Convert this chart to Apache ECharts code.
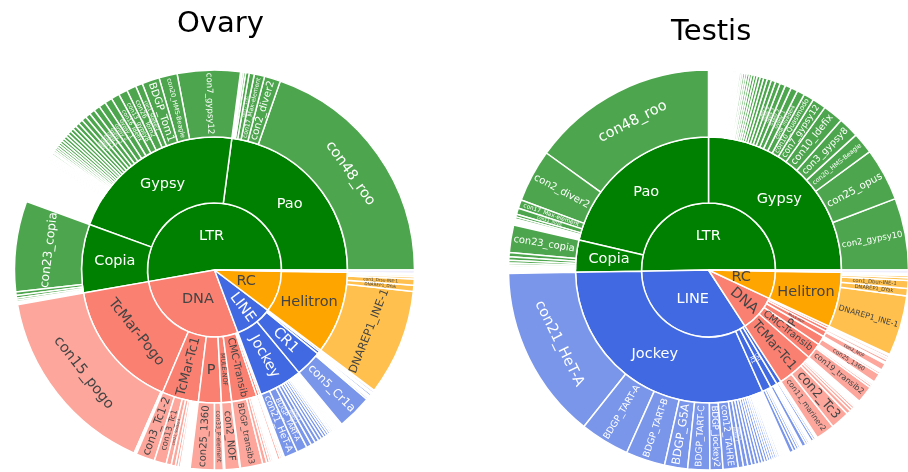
<!DOCTYPE html>
<html>
<head>
<meta charset="utf-8">
<title>Ovary / Testis</title>
<script src="https://cdn.jsdelivr.net/npm/echarts@6/dist/echarts.min.js"></script>
<style>
  html, body { margin: 0; padding: 0; background: #fff; }
  #chart { width: 908px; height: 472px; }
</style>
</head>
<body>
<div id="chart"></div>
<script>
// class colours (leaves get the same colour at 70% opacity on white)
const classColors = { LTR: '#008000', DNA: '#fa8072', LINE: '#4169e1', RC: '#ffa500', Unk: '#e6e6fa' };

// ---------- Ovary ---------- (values read as degrees of arc)
// [class, family, family total]
const ovaryFamilies = [
    ['LTR', 'Pao', 82.5],
    ['LTR', 'Gypsy', 77.5],
    ['LTR', 'Copia', 30],
    ['DNA', 'TcMar-Pogo', 57],
    ['DNA', 'TcMar-Tc1', 16],
    ['DNA', 'P', 10],
    ['DNA', 'MULE-NOF', 4.5],
    ['DNA', 'CMC-Transib', 11],
    ['DNA', 'DNA-other1', 1.2],
    ['DNA', 'DNA-other2', 0.8],
    ['LINE', 'Jockey', 19],
    ['LINE', 'CR1', 11.5],
    ['LINE', 'LINE-other1', 1.2],
    ['LINE', 'LINE-other2', 0.8],
    ['RC', 'Helitron', 36],
    ['Unk', 'Unk', 1],
];
// [family, element, value]
const ovaryLTR = [
    ['Pao', 'con48_roo', 70.8],
    ['Pao', 'con2_diver2', 4.7],
    ['Pao', 'con17_Max-element', 3.0],
    ['Pao', 'con17_1731', 1.5],
    ['Gypsy', 'con7_gypsy12', 18.3],
    ['Gypsy', 'con20_HMS-Beagle', 5.3],
    ['Gypsy', 'BDGP_Tom1', 5.1],
    ['Gypsy', 'con1_Stalker2', 2.0],
    ['Gypsy', 'con26_Tom2', 2.8],
    ['Gypsy', 'con13_gypsy8', 2.6],
    ['Gypsy', 'con16_Idefix', 2.4],
    ['Copia', 'con23_copia', 26.3],
];
const ovaryDNA = [
    ['TcMar-Pogo', 'con15_pogo', 56.3],
    ['TcMar-Tc1', 'con3_Tc1-2', 5.5],
    ['TcMar-Tc1', 'con13_Tc1', 3.5],
    ['TcMar-Tc1', 'con22_Stalker4', 1.5],
    ['TcMar-Tc1', 'con9_Tc1', 1.2],
    ['P', 'con25_1360', 7.0],
    ['P', 'con33_P-element', 2.6],
    ['MULE-NOF', 'con2_NOF', 4.3],
    ['CMC-Transib', 'BDGP_transib3', 6.5],
];
const ovaryLINE = [
    ['Jockey', 'con21_HeT-A', 4.0],
    ['Jockey', 'BDGP_TART-A', 3.0],
    ['CR1', 'con5_Cr1a', 10.2],
];
const ovaryRC = [
    ['Helitron', 'DNAREP1_INE-1', 30.8],
    ['Helitron', 'DNAREP1_DYak', 1.8],
    ['Helitron', 'con1_Drsu-INE-1', 1.8],
];
const ovaryUnk = [
    ['Unk', 'con7_Unk002_XXX4.ARB', 1],
];
// unlabelled thin slivers per family
const ovarySlivers = [
    ['Pao', [1.0, 0.6, 0.5, 0.4]],
    ['Gypsy', [2.2, 2.0, 1.8, 1.6, 1.5, 1.4, 1.3, 1.2, 1.1, 1.0, 1.0, 0.9, 0.9, 0.8, 0.8, 0.7, 0.7, 0.6, 0.6, 0.5, 0.5, 0.5, 0.4, 0.4, 0.4, 0.3, 0.3, 0.3, 0.3, 0.2, 0.2]],
    ['Copia', [1.0, 0.8, 0.6, 0.5, 0.4, 0.4]],
    ['TcMar-Pogo', [0.4, 0.3]],
    ['TcMar-Tc1', [0.8, 0.6]],
    ['P', [0.4]],
    ['MULE-NOF', [0.2]],
    ['CMC-Transib', [1.2, 0.8, 0.6, 0.5, 0.4]],
    ['DNA-other1', [0.7, 0.5]],
    ['DNA-other2', [0.5, 0.3]],
    ['Jockey', [1.5, 1.3, 1.1, 1.0, 0.9, 0.8, 0.7, 0.6, 0.5, 0.5, 0.4, 0.4, 0.3, 0.3]],
    ['CR1', [0.5, 0.4, 0.4]],
    ['LINE-other1', [0.6, 0.4]],
    ['LINE-other2', [0.5, 0.3]],
    ['Helitron', [0.7, 0.5, 0.4]],
];

// ---------- Testis ----------
const testisFamilies = [
    ['LTR', 'Gypsy', 90],
    ['LTR', 'Pao', 77],
    ['LTR', 'Copia', 14],
    ['LINE', 'Jockey', 113],
    ['LINE', 'R1', 4],
    ['LINE', 'CR1', 3],
    ['LINE', 'LINE-other1', 2],
    ['DNA', 'TcMar-Tc1', 16],
    ['DNA', 'CMC-Transib', 7],
    ['DNA', 'P', 4],
    ['DNA', 'MULE-NOF', 2.5],
    ['DNA', 'DNA-other1', 1.5],
    ['DNA', 'DNA-other2', 1.0],
    ['RC', 'Helitron', 24],
    ['Unk', 'Unk', 1],
];
const testisLTR = [
    ['Gypsy', 'con2_gypsy10', 20.9],
    ['Gypsy', 'con25_opus', 15.4],
    ['Gypsy', 'con20_HMS-Beagle', 6.2],
    ['Gypsy', 'con3_gypsy8', 6.0],
    ['Gypsy', 'con10_Idefix', 5.9],
    ['Gypsy', 'con7_gypsy12', 4.0],
    ['Gypsy', 'con10_Quasimodo', 3.0],
    ['Gypsy', 'con8_invader4', 2.2],
    ['Pao', 'con48_roo', 54.2],
    ['Pao', 'con2_diver2', 15.3],
    ['Pao', 'con17_Max-element', 2.5],
    ['Pao', 'con11_3018', 1.8],
    ['Copia', 'con23_copia', 8.0],
];
const testisLINE = [
    ['Jockey', 'con21_HeT-A', 50.5],
    ['Jockey', 'BDGP_TART-A', 14.4],
    ['Jockey', 'BDGP_TART-B', 11.4],
    ['Jockey', 'BDGP_G5A', 6.7],
    ['Jockey', 'BDGP_TART-C', 6.4],
    ['Jockey', 'BDGP_jockey2', 3.8],
    ['Jockey', 'con12_TAHRE', 4.4],
    ['CR1', 'con5_Cr1a', 1.2],
];
const testisDNA = [
    ['TcMar-Tc1', 'con11_mariner2', 5.5],
    ['TcMar-Tc1', 'con2_Tc3', 5.5],
    ['CMC-Transib', 'con19_transib2', 5.0],
    ['P', 'con25_1360', 2.6],
    ['MULE-NOF', 'con2_NOF', 2.0],
];
const testisRC = [
    ['Helitron', 'DNAREP1_INE-1', 17.5],
    ['Helitron', 'DNAREP1_DYak', 2.2],
    ['Helitron', 'con1_Dbur-INE-1', 2.3],
];
const testisUnk = [
    ['Unk', 'con7_Unk002_XXX4.ARB', 1],
];
const testisSlivers = [
    ['Gypsy', [2.0, 1.8, 1.6, 1.4, 1.3, 1.2, 1.1, 1.0, 0.9, 0.8, 0.8, 0.7, 0.7, 0.6, 0.6, 0.5, 0.5, 0.4, 0.4, 0.4, 0.3, 0.3, 0.3]],
    ['Pao', [0.8, 0.6, 0.5, 0.4]],
    ['Copia', [1.2, 1.0, 0.8, 0.6, 0.5, 0.4, 0.3]],
    ['Jockey', [1.5, 1.3, 1.2, 1.1, 1.0, 0.9, 0.9, 0.8, 0.7, 0.7, 0.6, 0.6, 0.5, 0.5, 0.4, 0.4, 0.3, 0.3]],
    ['R1', [1.2, 0.9, 0.7, 0.5]],
    ['CR1', [0.6, 0.5, 0.4]],
    ['LINE-other1', [0.8, 0.6, 0.4]],
    ['TcMar-Tc1', [1.2, 0.9, 0.7, 0.5, 0.4]],
    ['CMC-Transib', [0.7, 0.5, 0.4]],
    ['P', [0.6, 0.4]],
    ['MULE-NOF', [0.3]],
    ['DNA-other1', [0.8, 0.5]],
    ['DNA-other2', [0.6, 0.3]],
    ['Helitron', [0.8, 0.6, 0.4]],
];

// labels drawn horizontally (others pick radial / tangential to fit)
const ovaryFlat = ['LTR', 'DNA', 'RC', 'Pao', 'Gypsy', 'Copia', 'Helitron', 'P'];
const testisFlat = ['LTR', 'LINE', 'RC', 'Pao', 'Gypsy', 'Copia', 'Jockey', 'Helitron'];

const ringR = [0, 67, 133, 200];
const maxFont = 14.5;
const fontFamily = 'DejaVu Sans';

const measureCtx = document.createElement('canvas').getContext('2d');
measureCtx.font = `100px "${fontFamily}"`;
const textWidth = s => measureCtx.measureText(s).width / 100;

function tint(hex) {
    const n = parseInt(hex.slice(1), 16);
    const mix = c => Math.round(c * 0.7 + 255 * 0.3);
    const r = mix(n >> 16), g = mix((n >> 8) & 255), b = mix(n & 255);
    return '#' + ((1 << 24) + (r << 16) + (g << 8) + b).toString(16).slice(1);
}

// choose orientation and size so the text fits its sector
function labelFor(name, deg, depth, flat, color) {
    const r0 = ringR[depth - 1], r1 = ringR[depth];
    const t = r1 - r0, rm = (r0 + r1) / 2;
    const theta = deg * Math.PI / 180;
    const arc = theta * rm;
    const w = textWidth(name);
    if (flat.includes(name) && depth < 3) {
        return { show: true, rotate: 0, fontSize: maxFont, color };
    }
    const radial = Math.min(maxFont, 0.92 * t / w, 0.8 * arc);
    const tang = Math.min(maxFont, arc / w, 0.75 * t);
    let rotate = 'radial', size = radial;
    if (tang > radial * 1.05) { rotate = 'tangential'; size = tang; }
    if (size < 3) return { show: false };
    const lab = { show: true, rotate, fontSize: Math.round(size * 10) / 10, color };
    // the first ring's rotated labels sit nearer the rim
    if (depth === 1) Object.assign(lab, { position: 'insideEnd', distance: 4, align: 'right' });
    return lab;
}

function buildTree(families, leafRows, slivers, flat) {
    const roots = [];
    families.forEach(([cls, fam, total]) => {
        let node = roots.find(n => n.name === cls);
        if (!node) {
            node = { name: cls, children: [] };
            roots.push(node);
        }
        const kids = leafRows.filter(l => l[0] === fam).map(l => ({ name: l[1], value: l[2] }));
        slivers.filter(s => s[0] === fam).forEach(s => {
            s[1].forEach((v, i) => kids.push({ name: fam + '_' + (i + 1), value: v }));
        });
        node.children.push({ name: fam, value: total, children: kids });
    });
    roots.forEach(c => {
        const base = classColors[c.name];
        const txt = (c.name === 'LTR' || c.name === 'LINE') ? '#fff' : '#444';
        const leafColor = tint(base);
        const classDeg = c.children.reduce((a, f) => a + f.value, 0);
        c.itemStyle = { color: base };
        c.label = labelFor(c.name, classDeg, 1, flat, txt);
        c.children.forEach(f => {
            f.itemStyle = { color: base };
            f.label = labelFor(f.name, f.value, 2, flat, txt);
            f.children.forEach(l => {
                l.itemStyle = { color: leafColor };
                l.label = labelFor(l.name, l.value, 3, flat, txt);
            });
        });
    });
    return roots;
}

const ovaryData = buildTree(ovaryFamilies, [...ovaryLTR, ...ovaryDNA, ...ovaryLINE, ...ovaryRC, ...ovaryUnk], ovarySlivers, ovaryFlat);
const testisData = buildTree(testisFamilies, [...testisLTR, ...testisLINE, ...testisDNA, ...testisRC, ...testisUnk], testisSlivers, testisFlat);

function sunburst(data, center) {
    return {
        type: 'sunburst',
        center: center,
        radius: [0, ringR[3]],
        startAngle: 0,
        clockwise: false,
        sort: null,
        nodeClick: false,
        data: data,
        itemStyle: { borderColor: '#fff', borderWidth: 1.5 },
        label: { fontFamily: fontFamily, position: 'inside' },
        emphasis: { focus: 'none' },
        levels: [
            {},
            { r0: ringR[0], r: ringR[1] },
            { r0: ringR[1], r: ringR[2] },
            { r0: ringR[2], r: ringR[3] },
        ],
    };
}

const chart = echarts.init(document.getElementById('chart'));
chart.setOption({
    backgroundColor: '#fff',
    animation: false,
    title: [
        { text: 'Ovary', left: 172, top: 5, textStyle: { fontFamily, fontSize: 29, fontWeight: 'normal', color: '#000' } },
        { text: 'Testis', left: 666, top: 13, textStyle: { fontFamily, fontSize: 29, fontWeight: 'normal', color: '#000' } },
    ],
    series: [
        sunburst(ovaryData, [214.5, 270]),
        sunburst(testisData, [708.5, 270]),
    ],
});
</script>
</body>
</html>
